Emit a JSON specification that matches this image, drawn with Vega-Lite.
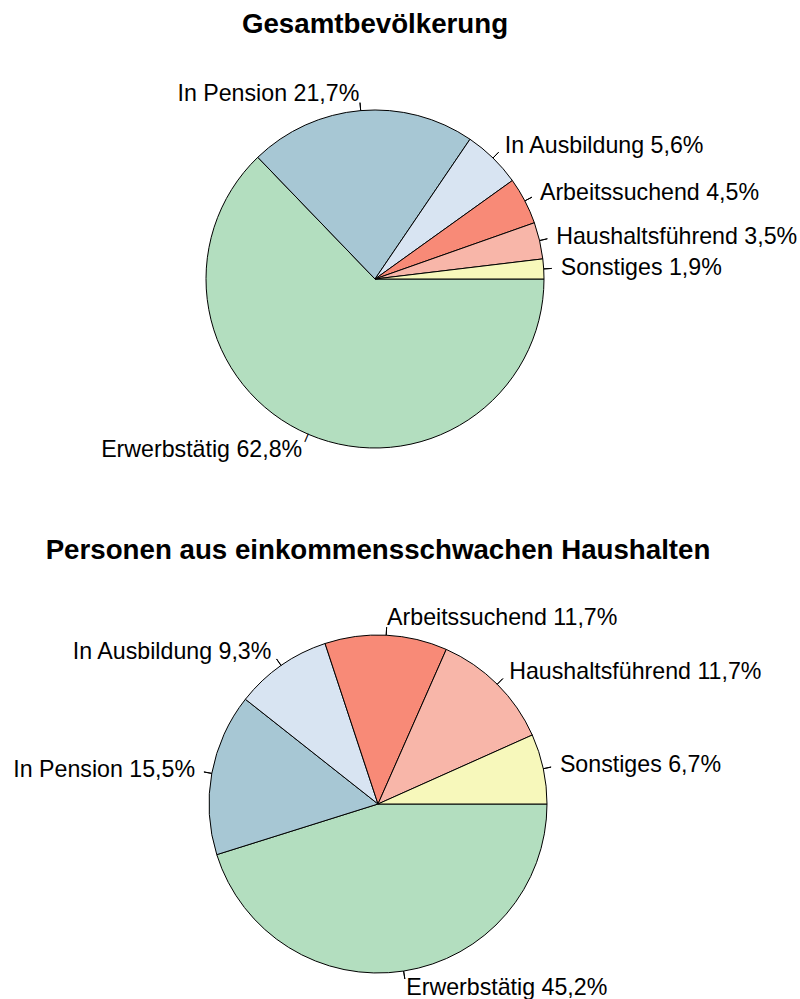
{
  "$schema": "https://vega.github.io/schema/vega-lite/v6.json",
  "padding": {"top": 11, "left": 0, "right": 0, "bottom": 0},
  "spacing": 0,
  "background": "white",
  "config": {
    "view": {"stroke": null},
    "font": "Liberation Sans",
    "title": {"font": "Liberation Sans", "fontSize": 27.7, "fontWeight": "bold", "color": "black", "anchor": "middle", "offset": 10}
  },
  "datasets": {
    "gesamt": [
      {"cat": "Erwerbstätig", "pct": 62.8, "o": 1, "label": "Erwerbstätig 62,8%"},
      {"cat": "In Pension", "pct": 21.7, "o": 2, "label": "In Pension 21,7%"},
      {"cat": "In Ausbildung", "pct": 5.6, "o": 3, "label": "In Ausbildung 5,6%"},
      {"cat": "Arbeitssuchend", "pct": 4.5, "o": 4, "label": "Arbeitssuchend 4,5%"},
      {"cat": "Haushaltsführend", "pct": 3.5, "o": 5, "label": "Haushaltsführend 3,5%"},
      {"cat": "Sonstiges", "pct": 1.9, "o": 6, "label": "Sonstiges 1,9%"}
    ],
    "einkommensschwach": [
      {"cat": "Erwerbstätig", "pct": 45.2, "o": 1, "label": "Erwerbstätig 45,2%"},
      {"cat": "In Pension", "pct": 15.5, "o": 2, "label": "In Pension 15,5%"},
      {"cat": "In Ausbildung", "pct": 9.3, "o": 3, "label": "In Ausbildung 9,3%"},
      {"cat": "Arbeitssuchend", "pct": 11.7, "o": 4, "label": "Arbeitssuchend 11,7%"},
      {"cat": "Haushaltsführend", "pct": 11.7, "o": 5, "label": "Haushaltsführend 11,7%"},
      {"cat": "Sonstiges", "pct": 6.7, "o": 6, "label": "Sonstiges 6,7%"}
    ]
  },
  "vconcat": [
    {
      "width": 750,
      "height": 488,
      "title": "Gesamtbevölkerung",
      "data": {"name": "gesamt"},
      "encoding": {
        "theta": {"field": "pct", "type": "quantitative", "stack": true, "scale": {"range": [1.5708, 7.854]}},
        "order": {"field": "o", "type": "quantitative"},
        "y": {"value": 230}
      },
      "layer": [
        {
          "mark": {"type": "arc", "outerRadius": 169, "stroke": "black", "strokeWidth": 1},
          "encoding": {
            "color": {"field": "cat", "type": "nominal", "legend": null,
              "scale": {"domain": ["Erwerbstätig", "In Pension", "In Ausbildung", "Arbeitssuchend", "Haushaltsführend", "Sonstiges"],
                        "range": ["#B3DEBF", "#A7C7D4", "#D8E4F2", "#F88A77", "#F8B6A9", "#F7F8BB"]}}
          }
        },
        {
          "mark": {"type": "arc", "innerRadius": 169, "outerRadius": 177, "padAngle": 3.1416, "fill": null, "stroke": "black", "strokeWidth": 1},
          "encoding": {
            "strokeOpacity": {"condition": {"test": "datum.cat == 'Erwerbstätig'", "value": 0}, "value": 1}
          }
        },
        {
          "mark": {"type": "text", "radius": 173, "align": "center", "baseline": "middle", "fontSize": 8.5, "angle": 113, "color": "black", "stroke": "black", "strokeWidth": 0.45},
          "encoding": {
            "text": {"condition": {"test": "datum.cat == 'Erwerbstätig'", "value": "—"}, "value": ""}
          }
        },
        {
          "mark": {"type": "text", "radius": 186, "align": "left", "baseline": "middle", "fontSize": 23.2, "color": "black"},
          "encoding": {
            "text": {"condition": {"test": "datum.cat == 'In Pension' || datum.cat == 'Erwerbstätig'", "value": ""}, "field": "label", "type": "nominal"}
          }
        },
        {
          "mark": {"type": "text", "radius": 186, "align": "right", "baseline": "middle", "fontSize": 23.2, "color": "black"},
          "encoding": {
            "text": {"condition": {"test": "!(datum.cat == 'In Pension' || datum.cat == 'Erwerbstätig')", "value": ""}, "field": "label", "type": "nominal"}
          }
        }
      ]
    },
    {
      "width": 756,
      "height": 425,
      "title": "Personen aus einkommensschwachen Haushalten",
      "data": {"name": "einkommensschwach"},
      "encoding": {
        "theta": {"field": "pct", "type": "quantitative", "stack": true, "scale": {"range": [1.5708, 7.854]}},
        "order": {"field": "o", "type": "quantitative"},
        "y": {"value": 229}
      },
      "layer": [
        {
          "mark": {"type": "arc", "outerRadius": 169, "stroke": "black", "strokeWidth": 1},
          "encoding": {
            "color": {"field": "cat", "type": "nominal", "legend": null,
              "scale": {"domain": ["Erwerbstätig", "In Pension", "In Ausbildung", "Arbeitssuchend", "Haushaltsführend", "Sonstiges"],
                        "range": ["#B3DEBF", "#A7C7D4", "#D8E4F2", "#F88A77", "#F8B6A9", "#F7F8BB"]}}
          }
        },
        {
          "mark": {"type": "arc", "innerRadius": 169, "outerRadius": 177, "padAngle": 3.1416, "fill": null, "stroke": "black", "strokeWidth": 1}
        },
        {
          "mark": {"type": "text", "radius": 186, "align": "left", "baseline": "middle", "fontSize": 23.2, "color": "black"},
          "encoding": {
            "text": {"condition": {"test": "datum.cat == 'In Pension' || datum.cat == 'In Ausbildung'", "value": ""}, "field": "label", "type": "nominal"}
          }
        },
        {
          "mark": {"type": "text", "radius": 186, "align": "right", "baseline": "middle", "fontSize": 23.2, "color": "black"},
          "encoding": {
            "text": {"condition": {"test": "!(datum.cat == 'In Pension' || datum.cat == 'In Ausbildung')", "value": ""}, "field": "label", "type": "nominal"}
          }
        }
      ]
    }
  ]
}
